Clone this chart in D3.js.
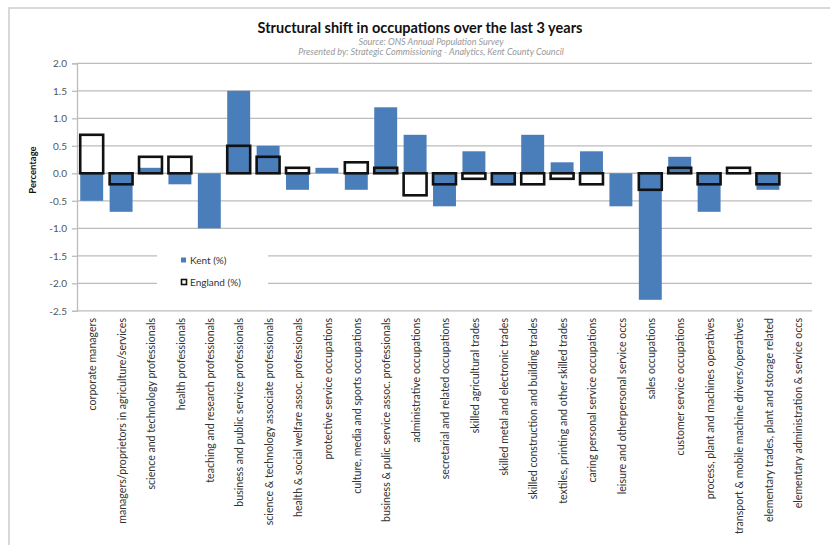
<!DOCTYPE html>
<html>
<head>
<meta charset="utf-8">
<script src="https://cdn.jsdelivr.net/npm/d3@7"></script>
<style>
  html, body { margin: 0; padding: 0; background: #fff; }
  svg { display: block; font-family: Lato, "Open Sans", sans-serif; }
</style>
</head>
<body>
<svg id="chart" width="830" height="545"></svg>
<script>
// Occupation groups (SOC sub-major groups)
const categories = [
  "corporate managers",
  "managers/proprietors in agriculture/services",
  "science and technology professionals",
  "health professionals",
  "teaching and research professionals",
  "business and public service professionals",
  "science & technology associate professionals",
  "health & social welfare assoc. professionals",
  "protective service occupations",
  "culture, media and sports occupations",
  "business & pulic service assoc. professionals",
  "administrative occupations",
  "secretarial and related occupations",
  "skilled agricultural trades",
  "skilled metal and electronic trades",
  "skilled construction and building trades",
  "textiles, printing and other skilled trades",
  "caring personal service occupations",
  "leisure and otherpersonal service occs",
  "sales occupations",
  "customer service occupations",
  "process, plant and machines operatives",
  "transport & mobile machine drivers/operatives",
  "elementary trades, plant and storage related",
  "elementary administration & service occs"
];

// Change in share of employment, percentage points
const kentValues = [
  -0.5, -0.7, 0.1, -0.2, -1.0, 1.5, 0.5, -0.3, 0.1, -0.3,
  1.2, 0.7, -0.6, 0.4, -0.2, 0.7, 0.2, 0.4, -0.6, -2.3,
  0.3, -0.7, 0.0, -0.3, 0.0
];
const englandValues = [
  0.7, -0.2, 0.3, 0.3, 0.0, 0.5, 0.3, 0.1, 0.0, 0.2,
  0.1, -0.4, -0.2, -0.1, -0.2, -0.2, -0.1, -0.2, 0.0, -0.3,
  0.1, -0.2, 0.1, -0.2, 0.0
];

const yTicks = [2.0, 1.5, 1.0, 0.5, 0.0, -0.5, -1.0, -1.5, -2.0, -2.5];

const seriesNames = ["Kent (%)", "England (%)"];
const titleText = "Structural shift in occupations over the last 3 years";
const sourceText = "Source: ONS Annual Population Survey";
const presenterText = "Presented by: Strategic Commissioning - Analytics, Kent County Council";

const svg = d3.select("#chart");
const plot = { left: 77, right: 812, top: 63.3, bottom: 310.8 };
const kentColor = "#4a7ebb";
const gridColor = "#bcbcbc";

// Outer chart frame (left and top edges visible)
svg.append("path")
  .attr("d", "M9,545 L9,8 L830,8")
  .attr("fill", "none")
  .attr("stroke", "#cdcdcd")
  .attr("stroke-width", 1.5);

const x = d3.scaleBand()
  .domain(categories)
  .range([plot.left, plot.right])
  .paddingInner(0.22)
  .paddingOuter(0.11);

const y = d3.scaleLinear()
  .domain([-2.5, 2.0])
  .range([plot.bottom, plot.top]);

// Horizontal gridlines
svg.append("g")
  .selectAll("line")
  .data(yTicks)
  .join("line")
  .attr("x1", plot.left)
  .attr("x2", plot.right)
  .attr("y1", d => y(d))
  .attr("y2", d => y(d))
  .attr("stroke", gridColor)
  .attr("stroke-width", 1.3);

// Value axis
const yAxis = d3.axisLeft(y)
  .tickValues(yTicks)
  .tickFormat(d => d.toFixed(1))
  .tickSize(5)
  .tickPadding(5);

const yg = svg.append("g")
  .attr("transform", `translate(${plot.left},0)`)
  .call(yAxis);
yg.select(".domain").attr("stroke", gridColor).attr("stroke-width", 1.3);
yg.selectAll(".tick line").attr("stroke", gridColor).attr("stroke-width", 1.3);
yg.selectAll(".tick text")
  .attr("fill", "#555")
  .style("font-size", "10px")
  .style("font-family", "Lato, sans-serif");

// Axis title
svg.append("text")
  .attr("transform", "translate(36,170) rotate(-90)")
  .attr("text-anchor", "middle")
  .style("font-size", "9.5px")
  .style("font-weight", "bold")
  .attr("fill", "#111")
  .text("Percentage");

// Category axis along zero
const zeroY = y(0);
svg.append("line")
  .attr("x1", plot.left).attr("x2", plot.right)
  .attr("y1", zeroY).attr("y2", zeroY)
  .attr("stroke", gridColor).attr("stroke-width", 1.3);

// Kent bars
svg.append("g")
  .selectAll("rect")
  .data(categories)
  .join("rect")
  .attr("x", d => x(d))
  .attr("width", x.bandwidth())
  .attr("y", (d, i) => y(Math.max(0, kentValues[i])))
  .attr("height", (d, i) => Math.abs(y(kentValues[i]) - y(0)))
  .attr("fill", kentColor);

// England outlined boxes, drawn on top
svg.append("g")
  .selectAll("rect")
  .data(categories.filter((d, i) => englandValues[i] !== 0))
  .join("rect")
  .attr("x", d => x(d))
  .attr("width", x.bandwidth())
  .attr("y", d => y(Math.max(0, englandValues[categories.indexOf(d)])))
  .attr("height", d => Math.abs(y(englandValues[categories.indexOf(d)]) - y(0)))
  .attr("fill", "none")
  .attr("stroke", "#111")
  .attr("stroke-width", 2.6);

// Category labels, rotated
svg.append("g")
  .selectAll("text")
  .data(categories)
  .join("text")
  .attr("transform", d => `translate(${x(d) + x.bandwidth() / 2 + 1},318) rotate(-90)`)
  .attr("text-anchor", "end")
  .attr("dy", "0.35em")
  .style("font-size", "10.6px")
  .attr("fill", "#333")
  .text(d => d);

// Legend
const legend = svg.append("g");
legend.append("rect")
  .attr("x", 157).attr("y", 242)
  .attr("width", 111).attr("height", 54)
  .attr("fill", "#fff");
legend.append("rect")
  .attr("x", 181).attr("y", 257.5)
  .attr("width", 5).attr("height", 5)
  .attr("fill", kentColor);
legend.append("rect")
  .attr("x", 181.5).attr("y", 279.5)
  .attr("width", 5).attr("height", 5)
  .attr("fill", "#fff")
  .attr("stroke", "#111")
  .attr("stroke-width", 1.6);
legend.selectAll("text.lg")
  .data(seriesNames)
  .join("text")
  .attr("class", "lg")
  .attr("x", 190)
  .attr("y", (d, i) => 260 + i * 22)
  .attr("dy", "0.35em")
  .style("font-size", "10px")
  .attr("fill", "#333")
  .text(d => d);

// Titles
svg.append("text")
  .attr("x", 420).attr("y", 33)
  .attr("text-anchor", "middle")
  .style("font-size", "14.5px")
  .style("font-weight", "bold")
  .attr("fill", "#111")
  .text(titleText);
svg.append("text")
  .attr("x", 431).attr("y", 45)
  .attr("text-anchor", "middle")
  .style("font-size", "9px")
  .style("font-style", "italic")
  .attr("fill", "#999")
  .text(sourceText);
svg.append("text")
  .attr("x", 431).attr("y", 55)
  .attr("text-anchor", "middle")
  .style("font-size", "9px")
  .style("font-style", "italic")
  .attr("fill", "#999")
  .text(presenterText);
</script>
</body>
</html>
